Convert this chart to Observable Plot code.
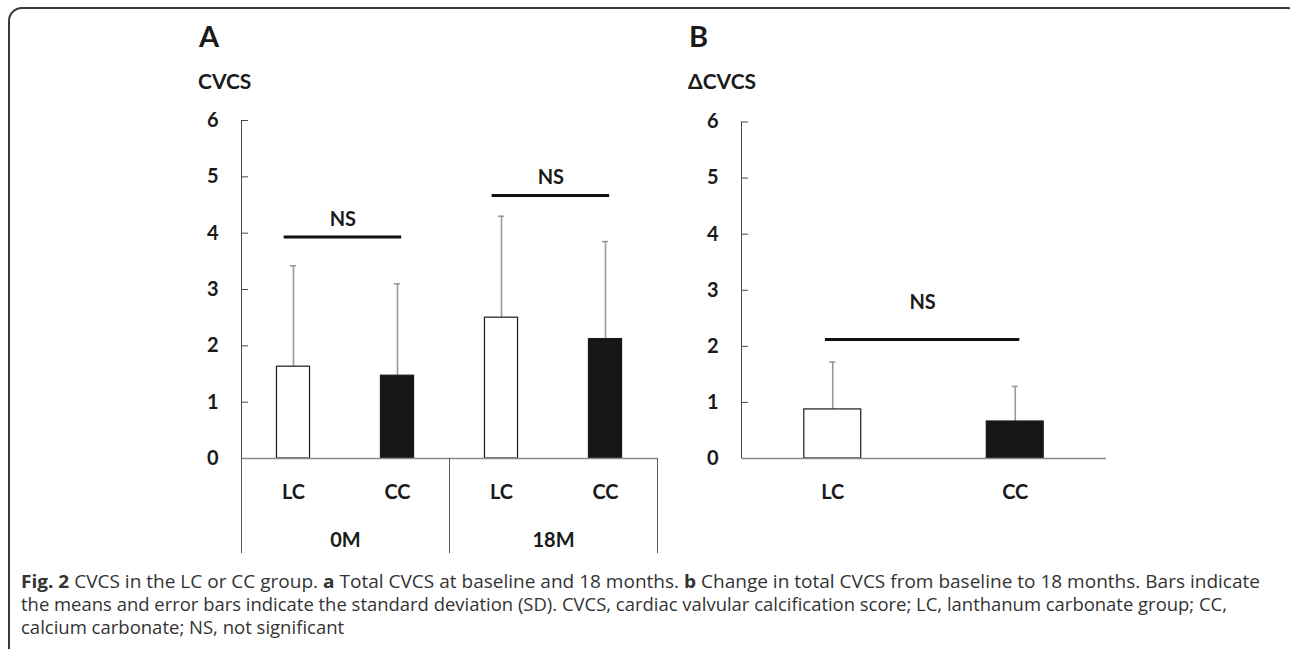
<!DOCTYPE html>
<html><head><meta charset="utf-8">
<script src="https://cdn.jsdelivr.net/npm/d3@7"></script>
<script src="https://cdn.jsdelivr.net/npm/@observablehq/plot@0.6"></script>
<style>
body{margin:0;background:#fff;}
#wrap{position:relative;width:1290px;height:649px;overflow:hidden;background:#fff;}
#frame{position:absolute;left:8px;top:7px;width:1293px;height:700px;border:2px solid #3a3a3a;border-radius:14px;box-sizing:border-box;}
#panelA,#panelB{position:absolute;top:0;}
#panelA{left:0;}
#panelB{left:680px;}
#overlay{position:absolute;left:0;top:0;}
</style></head><body>
<div id="wrap">
<div id="frame"></div>
<div id="panelA"></div>
<div id="panelB"></div>
<svg id="overlay" width="1290" height="649"></svg>
</div>
<script>
// ---------- data ----------
const timepoints = ["0M", "18M"];
const groups = ["LC", "CC"];
// Panel A: total CVCS (order: 0M-LC, 0M-CC, 18M-LC, 18M-CC)
const totalMean = [1.63, 1.47, 2.50, 2.12];
const totalSD = [1.79, 1.63, 1.80, 1.73];
// Panel B: change in CVCS (LC, CC)
const deltaMean = [0.875, 0.66];
const deltaSD = [0.845, 0.625];
const yTicks = [0, 1, 2, 3, 4, 5, 6];
const sigLabel = "NS";
const sigA = [{from: 0, to: 1, level: 3.93}, {from: 2, to: 3, level: 4.67}];
const sigB = [{from: 0, to: 1, level: 2.12}];
const panelTitles = ["A", "B"];
const yLabels = ["CVCS", "ΔCVCS"];
const captionLines = [
  [["Fig. 2", true], [" CVCS in the LC or CC group. ", false], ["a", true], [" Total CVCS at baseline and 18 months. ", false], ["b", true], [" Change in total CVCS from baseline to 18 months. Bars indicate", false]],
  [["the means and error bars indicate the standard deviation (SD). CVCS, cardiac valvular calcification score; LC, lanthanum carbonate group; CC,", false]],
  [["calcium carbonate; NS, not significant", false]]
];

// ---------- build ----------
const rowsA = totalMean.map((m, i) => ({i, time: timepoints[Math.floor(i / groups.length)], group: groups[i % groups.length], mean: m, sd: totalSD[i]}));
const rowsB = deltaMean.map((m, i) => ({i, group: groups[i], mean: m, sd: deltaSD[i]}));
const timeRows = timepoints.map((t, k) => ({t, center: k * groups.length + (groups.length - 1) / 2}));
const boundaries = d3.range(timepoints.length + 1).map(k => k * groups.length - 0.5);

const FONT = "Lato, 'Open Sans', sans-serif";

function panel({rows, sig, width, marginLeft, marginRight, marginTop, hw, capw, padL, padR, nsDy, extra}) {
  const n = rows.length;
  return Plot.plot({
    width, height: 570,
    marginLeft, marginRight, marginTop, marginBottom: 570 - 458,
    style: {fontFamily: FONT, fontWeight: 700, fontSize: "20px", color: "#1a1a1a", background: "transparent", overflow: "visible"},
    x: {type: "linear", domain: [-0.5, n - 0.5], axis: null},
    y: {domain: [0, 6], axis: null},
    marks: [
      Plot.frame({anchor: "left", stroke: "#4a4a4a"}),
      Plot.axisY({ticks: yTicks, tickFormat: d => String(d), tickSize: -7, tickPadding: 30, stroke: "#4a4a4a", fill: "#1a1a1a", label: null}),
      // error bars
      Plot.ruleX(rows, {x: "i", y1: "mean", y2: d => d.mean + d.sd, stroke: "#9a9a9a", strokeWidth: 1.6}),
      Plot.ruleY(rows, {y: d => d.mean + d.sd, x1: d => d.i - capw, x2: d => d.i + capw, stroke: "#9a9a9a", strokeWidth: 1.6}),
      // bars
      Plot.rect(rows, {x1: d => d.i - hw, x2: d => d.i + hw, y1: 0, y2: "mean",
        fill: d => d.group === groups[0] ? "#ffffff" : "#161616", stroke: "#1a1a1a", strokeWidth: 1.2}),
      Plot.ruleY([0], {stroke: "#8a8a8a", strokeWidth: 1.6}),
      // significance
      Plot.ruleY(sig, {y: "level", x1: d => d.from - padL, x2: d => d.to + padR, stroke: "#111", strokeWidth: 3}),
      Plot.text(sig, {x: d => (d.from - padL + d.to + padR) / 2, y: "level", text: () => sigLabel, dy: nsDy, fill: "#1a1a1a"}),
      // category labels
      Plot.text(rows, {x: "i", y: 0, text: "group", dy: 34, fill: "#1a1a1a"}),
      ...(extra || [])
    ]
  });
}

document.getElementById("panelA").append(panel({
  rows: rowsA, sig: sigA, width: 680, marginLeft: 241, marginRight: 23, marginTop: 120,
  hw: 0.159, capw: 0.03, padL: 0.09, padR: 0.04, nsDy: -18,
  extra: [
    Plot.ruleX(boundaries, {x: d => d, y1: 0, y2: 0, insetBottom: -95, stroke: "#5a5a5a"}),
    Plot.text(timeRows, {x: "center", y: 0, text: "t", dy: 82, fill: "#1a1a1a"})
  ]
}));

document.getElementById("panelB").append(panel({
  rows: rowsB, sig: sigB, width: 610, marginLeft: 61, marginRight: 184, marginTop: 121.5,
  hw: 0.156, capw: 0.017, padL: 0.04, padR: 0.025, nsDy: -37
}));

// ---------- titles and caption ----------
const ov = d3.select("#overlay");
const titleX = [199, 689];
panelTitles.forEach((t, k) => {
  ov.append("text").attr("x", titleX[k]).attr("y", 46.5).attr("font-family", FONT).attr("font-weight", 700)
    .attr("font-size", 29).attr("fill", "#1a1a1a").text(t);
  ov.append("text").attr("x", titleX[k] - 1).attr("y", 89).attr("font-family", FONT).attr("font-weight", 700)
    .attr("font-size", 21).attr("fill", "#1a1a1a").text(yLabels[k]);
});
const capWidths = [1239, 1206, null];
const capBase = [588, 611, 634];
captionLines.forEach((parts, k) => {
  const t = ov.append("text").attr("x", 21).attr("y", capBase[k])
    .attr("font-family", "'Open Sans', sans-serif").attr("font-size", 18.5).attr("fill", "#333");
  if (capWidths[k]) t.attr("textLength", capWidths[k]).attr("lengthAdjust", "spacingAndGlyphs");
  parts.forEach(([s, b]) => t.append("tspan").attr("font-weight", b ? 700 : 400).text(s));
});
</script>
</body></html>
